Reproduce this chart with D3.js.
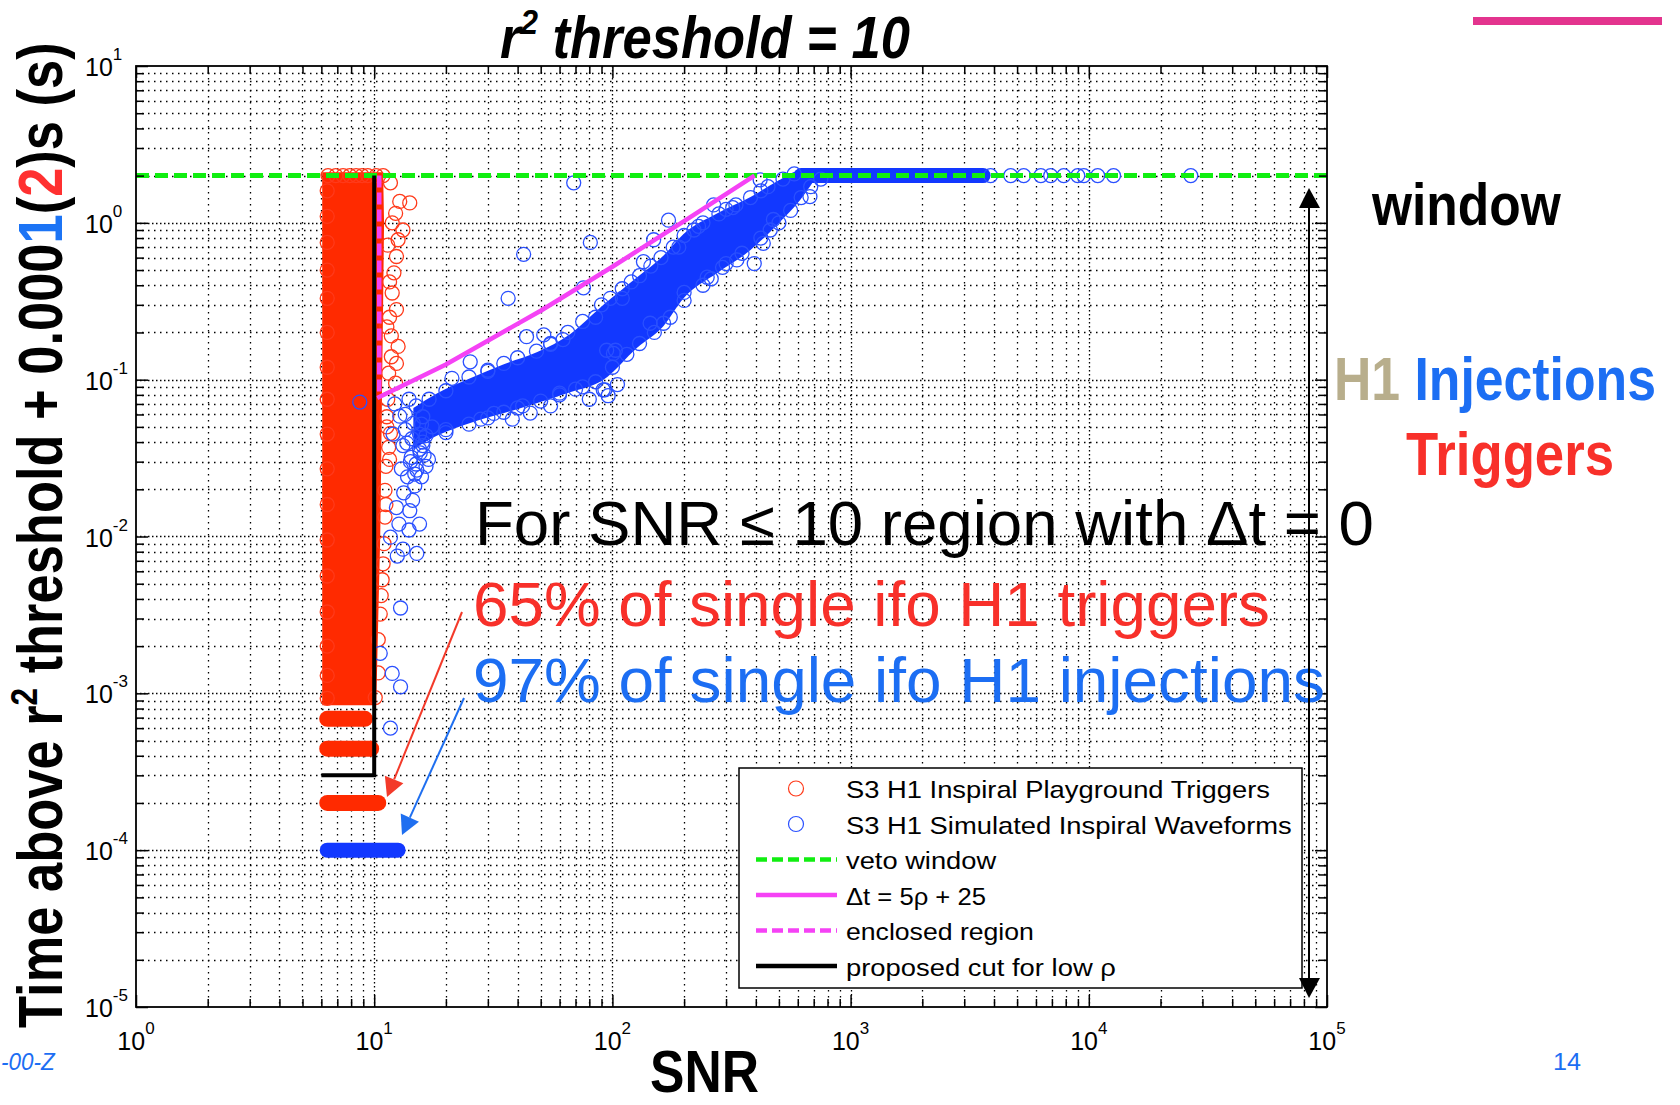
<!DOCTYPE html>
<html>
<head>
<meta charset="utf-8">
<script src="https://cdn.jsdelivr.net/npm/d3@7"></script>
<style>
body { margin: 0; background: #fff; }
svg { display: block; font-family: "Liberation Sans", Arial, Helvetica, sans-serif; }
</style>
</head>
<body>
<div id="chart"></div>
<script>
// ---------- values ----------
const xTickExps = [0, 1, 2, 3, 4, 5]
const yTickExps = [-5, -4, -3, -2, -1, 0, 1]

const vetoWindow = 2   // s, the dashed green line
const dtLine = [[10.3, 0.0765], [20, 0.125], [50, 0.275], [100, 0.525], [200, 1.025], [395, 2.0]]
const enclosedRegion = [[10.5, 2.0], [10.5, 0.0765]]
const proposedCut = [[6.0, 3e-4], [10, 3e-4], [10, 2.0]]

// red triggers: dense core, as [t, snr lo, snr hi]
const trigCore = [
    [2.1, 6.05, 10.9], [1.0, 6.05, 11.0], [0.3, 6.05, 10.9], [0.1, 6.05, 10.8],
    [0.03, 6.05, 10.7], [0.01, 6.05, 10.6], [0.003, 6.05, 10.4], [0.00084, 6.05, 10.2]
]
// quantised rows below the core, as [t, snr lo, snr hi]
const trigBands = [[6.88e-4, 6.35, 9.14], [4.44e-4, 6.35, 9.71], [2.0e-4, 6.35, 10.4]]
// single trigger markers round the edge of the core, [snr, t]
const trigPoints = [
    [14.1, 1.34], [12.8, 1.37], [13.2, 0.90], [12.3, 1.15], [12.6, 0.78], [12.4, 0.61],
    [12.1, 0.48], [11.9, 0.357], [12.4, 0.28], [12.6, 0.163], [12.4, 0.127], [12.3, 0.095],
    [11.3, 0.058], [11.7, 0.0455], [11.3, 0.217], [11.7, 1.8], [11.3, 0.050], [11.5, 0.037],
    [11.1, 0.0197], [11.1, 0.0133], [10.9, 0.0067], [10.8, 0.0053], [10.6, 0.0032],
    [10.4, 0.0022], [10.4, 0.00135], [10.1, 0.00094], [11.6, 0.25], [11.8, 0.14],
    [11.4, 0.72], [11.9, 1.0], [11.2, 0.028], [11.0, 0.009], [10.7, 0.0042],
    [11.6, 0.42], [11.8, 0.19], [11.5, 0.11], [11.4, 0.075], [11.6, 0.031], [11.2, 0.016],
    [6.4, 2], [6.9, 2], [7.4, 2], [7.9, 2], [8.4, 2], [8.9, 2], [9.4, 2], [10.2, 2], [10.9, 2],
    [6.35, 1.6], [6.35, 1.1], [6.35, 0.75], [6.35, 0.5], [6.35, 0.33], [6.35, 0.2],
    [6.35, 0.12], [6.35, 0.075], [6.35, 0.045], [6.35, 0.027], [6.35, 0.016], [6.35, 0.0095],
    [6.35, 0.0056], [6.35, 0.0033], [6.35, 0.002], [6.35, 0.0013], [6.35, 0.00093]
]

// blue injections: dense band, as [snr, t lo, t hi]
const injCloud = [
    [14.6, 0.036, 0.066], [18.4, 0.044, 0.082], [25.3, 0.053, 0.102], [34.8, 0.061, 0.125],
    [48.4, 0.071, 0.150], [66.4, 0.083, 0.195], [91.7, 0.10, 0.30], [127, 0.16, 0.45],
    [164, 0.22, 0.62], [199, 0.33, 0.85], [276, 0.48, 1.15], [380, 0.67, 1.46],
    [494, 0.98, 1.85], [614, 1.4, 2.15], [700, 1.85, 2.15]
]
const injFlat = [620, 3600]        // snr span packed on the veto window
const injLowBand = [6.35, 12.6]    // snr span at t = 1e-4
const injLowT = 1e-4
const injPoints = [
    // outliers
    [68.8, 1.80], [80.8, 0.75], [42.4, 0.63], [36.5, 0.33], [135, 0.565], [75.6, 0.385],
    [172, 1.04], [266, 1.30], [417, 1.88], [149, 0.78], [474, 1.05], [675, 1.47],
    [21.2, 0.102], [25.3, 0.13], [43.6, 0.188], [51.5, 0.193], [31.8, 0.0609], [45.2, 0.0612],
    [93.0, 0.0861], [101, 0.147], [164, 0.229], [144, 0.229], [394, 0.55], [430, 0.74],
    [333, 0.58], [94.6, 0.154], [103, 0.154], [91.5, 0.0862], [60, 0.082], [75, 0.09],
    [40, 0.066], [28, 0.056], [20, 0.048], [16.5, 0.044], [200, 0.36], [250, 0.45],
    [300, 0.55], [230, 0.95], [320, 1.25], [110, 0.33], [85, 0.25], [55, 0.17], [30, 0.115],
    [17, 0.075], [120, 0.42], [190, 0.7],
    // upper edge of the band
    [20, 0.085], [25, 0.104], [30, 0.113], [35, 0.127], [40, 0.138], [48, 0.152], [55, 0.168],
    [65, 0.2], [75, 0.235], [90, 0.3], [110, 0.38], [130, 0.46], [160, 0.6], [200, 0.83],
    [240, 1.0], [280, 1.14], [330, 1.3], [380, 1.45], [450, 1.7], [520, 1.9], [580, 2.05],
    [62, 0.18], [98, 0.33], [145, 0.53], [180, 0.7], [220, 0.9], [300, 1.22], [420, 1.6],
    // lower edge of the band
    [16, 0.04], [20, 0.046], [25, 0.052], [30, 0.057], [35, 0.062], [42, 0.068], [50, 0.073],
    [60, 0.08], [70, 0.087], [85, 0.097], [100, 0.12], [115, 0.145], [130, 0.17], [150, 0.2],
    [175, 0.25], [200, 0.32], [240, 0.4], [290, 0.52], [350, 0.64], [420, 0.8], [500, 1.0],
    [560, 1.2], [620, 1.45], [680, 1.7], [750, 1.9], [96, 0.079], [105, 0.093], [80, 0.075],
    [38, 0.056], [55, 0.068], [260, 0.44], [460, 0.9],
    // lower arm
    [12.8, 0.0585], [14.6, 0.0527], [13.7, 0.0394], [15.6, 0.0341], [16.9, 0.031],
    [15.1, 0.0265], [14.1, 0.0146], [12.4, 0.0153], [11.7, 0.0099], [13.2, 0.0083],
    [15.1, 0.0078], [12.5, 0.0075], [14.0, 0.011], [13.3, 0.019], [14.8, 0.021],
    [15.8, 0.024], [14.2, 0.030], [16.0, 0.038], [13.5, 0.048], [12.2, 0.07], [12.0, 0.045],
    [14.5, 0.017], [15.5, 0.012], [16.5, 0.028], [13.0, 0.027], [12.7, 0.012],
    [14.3, 0.032], [15.0, 0.029], [15.5, 0.036], [14.8, 0.025], [16.2, 0.033],
    [13.5, 0.06], [14.0, 0.075], [15.0, 0.068], [16.0, 0.058], [15.5, 0.045], [13.2, 0.038],
    [14.4, 0.042], [15.8, 0.052], [17.5, 0.05], [13.8, 0.024],
    // strays below
    [12.9, 0.0035], [10.6, 0.0018], [11.9, 0.00134], [12.9, 0.0011], [11.7, 0.0006], [8.7, 0.072],
    // flat tail at the veto window
    [3870, 2], [4700, 2], [5330, 2], [6290, 2], [6920, 2], [7850, 2], [8990, 2], [9530, 2],
    [10900, 2], [12700, 2], [26800, 2]
]

const legendLabels = [
    'S3 H1 Inspiral Playground Triggers',
    'S3 H1 Simulated Inspiral Waveforms',
    'veto window',
    '\u0394t = 5\u03c1 + 25',
    'enclosed region',
    'proposed cut for low \u03c1'
]

// ---------- layout ----------
const W = 1680, H = 1105
const plot = {left: 136, right: 1327, top: 66, bottom: 1007}
const RED = '#ff2a00', REDLINE = '#ff3a1a', BLUE = '#1238ff', BLUELINE = '#2a50ff'
const TXTRED = '#f8302a', TXTBLUE = '#1c6ef3'

let svg = d3.select('#chart').append('svg')
            .attr('width', W).attr('height', H)
svg.append('rect').attr('width', W).attr('height', H).attr('fill', '#fff')

let x = d3.scaleLog().domain([1, 1e5]).range([plot.left, plot.right])
let y = d3.scaleLog().domain([1e-5, 10]).range([plot.bottom, plot.top])

const isMajor = v => Math.abs(Math.log10(v) - Math.round(Math.log10(v))) < 1e-6
let xTicks = x.ticks()
let yTicks = y.ticks()

svg.append('clipPath').attr('id', 'plotclip')
   .append('rect')
   .attr('x', plot.left).attr('y', plot.top)
   .attr('width', plot.right - plot.left).attr('height', plot.bottom - plot.top)

// dotted grid, major and minor
let grid = svg.append('g').attr('stroke', '#000').attr('stroke-width', 1.3)
grid.selectAll('.vgrid')
    .data(xTicks.filter(v => v > 1 && v < 1e5))
    .enter().append('line')
    .attr('x1', d => Math.round(x(d)) + 0.5).attr('x2', d => Math.round(x(d)) + 0.5)
    .attr('y1', plot.top).attr('y2', plot.bottom)
    .attr('stroke-dasharray', d => isMajor(d) ? '1.5,2.5' : '1.5,4.5')
grid.selectAll('.hgrid')
    .data(yTicks.filter(v => v > 1e-5 && v < 10))
    .enter().append('line')
    .attr('y1', d => Math.round(y(d)) + 0.5).attr('y2', d => Math.round(y(d)) + 0.5)
    .attr('x1', plot.left).attr('x2', plot.right)
    .attr('stroke-dasharray', d => isMajor(d) ? '1.5,2.5' : '1.5,4.5')

let data = svg.append('g').attr('clip-path', 'url(#plotclip)')

// red triggers
data.append('path')
    .datum(trigCore)
    .attr('d', d3.area().y(d => y(d[0])).x0(d => x(d[1])).x1(d => x(d[2])))
    .attr('fill', RED)
data.selectAll('.tband')
    .data(trigBands)
    .enter().append('line')
    .attr('x1', d => x(d[1])).attr('x2', d => x(d[2]))
    .attr('y1', d => y(d[0])).attr('y2', d => y(d[0]))
    .attr('stroke', RED).attr('stroke-width', 16).attr('stroke-linecap', 'round')
data.selectAll('.tpt')
    .data(trigPoints)
    .enter().append('circle')
    .attr('cx', d => x(d[0])).attr('cy', d => y(d[1])).attr('r', 7)
    .attr('fill', 'none').attr('stroke', REDLINE).attr('stroke-width', 1.3)

// blue injections
data.append('path')
    .datum(injCloud)
    .attr('d', d3.area().curve(d3.curveMonotoneX)
                 .x(d => x(d[0])).y0(d => y(d[1])).y1(d => y(d[2])))
    .attr('fill', BLUE)
data.append('line')
    .attr('x1', x(injFlat[0])).attr('x2', x(injFlat[1]))
    .attr('y1', y(vetoWindow)).attr('y2', y(vetoWindow))
    .attr('stroke', BLUE).attr('stroke-width', 15).attr('stroke-linecap', 'round')
data.append('line')
    .attr('x1', x(injLowBand[0])).attr('x2', x(injLowBand[1]))
    .attr('y1', y(injLowT)).attr('y2', y(injLowT))
    .attr('stroke', BLUE).attr('stroke-width', 15).attr('stroke-linecap', 'round')
data.selectAll('.ipt')
    .data(injPoints)
    .enter().append('circle')
    .attr('cx', d => x(d[0])).attr('cy', d => y(d[1])).attr('r', 7)
    .attr('fill', 'none').attr('stroke', BLUELINE).attr('stroke-width', 1.3)

// veto window, cut lines
let line = d3.line().x(d => x(d[0])).y(d => y(d[1]))
data.append('line')
    .attr('x1', plot.left).attr('x2', plot.right)
    .attr('y1', y(vetoWindow)).attr('y2', y(vetoWindow))
    .attr('stroke', '#11ee11').attr('stroke-width', 5).attr('stroke-dasharray', '13,6')
data.append('path').datum(dtLine).attr('d', line)
    .attr('fill', 'none').attr('stroke', '#f542f5').attr('stroke-width', 4.5)
data.append('path').datum(enclosedRegion).attr('d', line)
    .attr('fill', 'none').attr('stroke', '#f542f5').attr('stroke-width', 4.5)
    .attr('stroke-dasharray', '12,5')
data.append('path').datum(proposedCut).attr('d', line)
    .attr('fill', 'none').attr('stroke', '#000').attr('stroke-width', 4)

// inward ticks on all four sides
function ticks(axisFn, scale, vals, len, tx, ty) {
    svg.append('g')
       .attr('transform', 'translate(' + tx + ',' + ty + ')')
       .call(axisFn(scale).tickValues(vals).tickSizeInner(-len).tickSizeOuter(0).tickFormat(''))
       .call(g => g.select('.domain').remove())
       .selectAll('line').attr('stroke', '#000').attr('stroke-width', 1.5)
}
let xMaj = xTicks.filter(isMajor), xMin = xTicks.filter(v => !isMajor(v))
let yMaj = yTicks.filter(isMajor), yMin = yTicks.filter(v => !isMajor(v))
ticks(d3.axisBottom, x, xMaj, 12, 0, plot.bottom)
ticks(d3.axisBottom, x, xMin, 8, 0, plot.bottom)
ticks(d3.axisTop, x, xMaj, 12, 0, plot.top)
ticks(d3.axisTop, x, xMin, 8, 0, plot.top)
ticks(d3.axisLeft, y, yMaj, 12, plot.left, 0)
ticks(d3.axisLeft, y, yMin, 8, plot.left, 0)
ticks(d3.axisRight, y, yMaj, 12, plot.right, 0)
ticks(d3.axisRight, y, yMin, 8, plot.right, 0)

svg.append('rect')
   .attr('x', plot.left).attr('y', plot.top)
   .attr('width', plot.right - plot.left).attr('height', plot.bottom - plot.top)
   .attr('fill', 'none').attr('stroke', '#000').attr('stroke-width', 1.8)

// tick labels: 10 with a raised exponent
svg.append('g').selectAll('text')
   .data(xTickExps)
   .enter().append('text')
   .attr('x', d => x(Math.pow(10, d))).attr('y', 1050)
   .attr('text-anchor', 'middle').attr('font-size', 25)
   .each(function(d) {
       let t = d3.select(this)
       t.append('tspan').text('10')
       t.append('tspan').attr('dy', -16).attr('font-size', 17).text(d)
   })
svg.append('g').selectAll('text')
   .data(yTickExps)
   .enter().append('text')
   .attr('x', 85).attr('y', d => y(Math.pow(10, d)) + 10)
   .attr('font-size', 25)
   .each(function(d) {
       let t = d3.select(this)
       t.append('tspan').text('10')
       t.append('tspan').attr('dy', -16).attr('font-size', 17).text(d)
   })

// text squeezed or stretched to the width it has in the picture
function label(px, py, width, style, parts, angle) {
    let g = svg.append('g')
    let t = g.append('text')
             .attr('font-size', style.size)
             .attr('font-weight', style.weight || 'normal')
             .attr('font-style', style.italic ? 'italic' : 'normal')
             .attr('fill', style.fill || '#000')
    let raised = false
    parts.forEach(p => {
        let s = t.append('tspan').text(p.text)
        if (p.fill) s.attr('fill', p.fill)
        if (p.sup) {
            s.attr('font-size', style.size * 0.6).attr('dy', -style.size * 0.4)
            raised = true
        } else if (raised) {
            s.attr('dy', style.size * 0.4)
            raised = false
        }
    })
    let w = t.node().getBBox().width
    g.attr('transform', 'translate(' + px + ',' + py + ') rotate(' + (angle || 0) + ') scale(' + (width / w) + ',1)')
    return g
}

// legend
let lg = {x: 739, y: 768, w: 563, h: 220}
svg.append('rect')
   .attr('x', lg.x).attr('y', lg.y).attr('width', lg.w).attr('height', lg.h)
   .attr('fill', '#fff').attr('stroke', '#000').attr('stroke-width', 1.5)
const legendWidths = [424, 446, 151, 140, 188, 270]
legendLabels.forEach((txt, i) => {
    let base = 798 + i * 35.5
    let my = base - 9.5
    if (i < 2) {
        svg.append('circle').attr('cx', 796).attr('cy', my).attr('r', 7.5)
           .attr('fill', 'none').attr('stroke', i === 0 ? REDLINE : BLUELINE).attr('stroke-width', 1.2)
    } else {
        let col = ['#11ee11', '#f542f5', '#f542f5', '#000'][i - 2]
        let l = svg.append('line').attr('x1', 756).attr('x2', 837).attr('y1', my).attr('y2', my)
                   .attr('stroke', col).attr('stroke-width', 4.5)
        if (i === 2 || i === 4) l.attr('stroke-dasharray', '11,5')
    }
    label(846, base, legendWidths[i], {size: 24}, [{text: txt}])
})

// annotations
label(475, 545, 899, {size: 63}, [{text: 'For SNR \u2264 10 region with \u0394t = 0'}])
label(473, 626, 797, {size: 63, fill: TXTRED}, [{text: '65% of single ifo H1 triggers'}])
label(473, 702, 852, {size: 63, fill: TXTBLUE}, [{text: '97% of single ifo H1 injections'}])

function arrow(x1, y1, x2, y2, col) {
    let dx = x2 - x1, dy = y2 - y1, n = Math.hypot(dx, dy)
    let ux = dx / n, uy = dy / n
    let bx = x2 - ux * 19, by = y2 - uy * 19
    svg.append('line').attr('x1', x1).attr('y1', y1).attr('x2', bx).attr('y2', by)
       .attr('stroke', col).attr('stroke-width', 2)
    svg.append('polygon')
       .attr('points', [[x2, y2], [bx - uy * 10, by + ux * 10], [bx + uy * 10, by - ux * 10]].join(' '))
       .attr('fill', col)
}
arrow(462, 612, 387, 797, '#f33a2a')
arrow(464, 698, 402, 835, '#1f6ff0')

// double arrow for the window
svg.append('line').attr('x1', 1309).attr('x2', 1309).attr('y1', 200).attr('y2', 985)
   .attr('stroke', '#000').attr('stroke-width', 2)
svg.append('polygon').attr('points', '1309,188 1299,208 1320,208').attr('fill', '#000')
svg.append('polygon').attr('points', '1309,998 1299,978 1320,978').attr('fill', '#000')

label(1372, 225, 190, {size: 60, weight: 'bold'}, [{text: 'window'}])
label(1334, 400, 322, {size: 61, weight: 'bold'},
      [{text: 'H1 ', fill: '#b8ae8c'}, {text: 'Injections', fill: TXTBLUE}])
label(1406, 475, 208, {size: 62, weight: 'bold', fill: TXTRED}, [{text: 'Triggers'}])

// titles
label(500, 58, 410, {size: 60, weight: 'bold', italic: true},
      [{text: 'r'}, {text: '2', sup: true}, {text: ' threshold = 10'}])
label(650, 1092, 109, {size: 60, weight: 'bold'}, [{text: 'SNR'}])
label(62, 1028, 986, {size: 62, weight: 'bold'},
      [{text: 'Time above r'}, {text: '2', sup: true}, {text: ' threshold + 0.000'},
       {text: '1', fill: '#1c74f5'}, {text: '('}, {text: '2', fill: '#ff3030'}, {text: ')s (s)'}], -90)

// slide furniture
svg.append('rect').attr('x', 1473).attr('y', 17).attr('width', 189).attr('height', 8).attr('fill', '#e3348e')
label(1, 1070, 55, {size: 24, italic: true, fill: TXTBLUE}, [{text: '-00-Z'}])
label(1553, 1070, 28, {size: 24, fill: TXTBLUE}, [{text: '14'}])
</script>
</body>
</html>
